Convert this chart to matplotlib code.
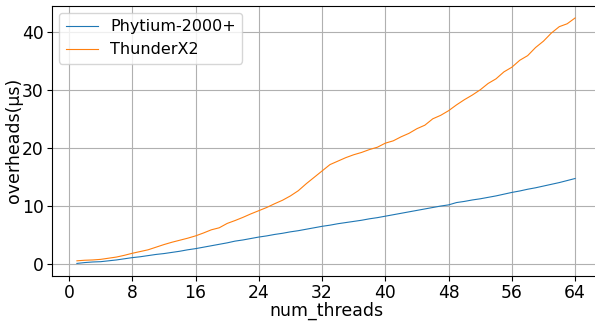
import numpy as np
import matplotlib.pyplot as plt

# thread counts 1..64
num_threads = list(range(1, 65))

phytium = [0.05, 0.2, 0.3, 0.35, 0.5, 0.65, 0.85, 1.05, 1.2, 1.4,
           1.6, 1.75, 1.95, 2.15, 2.4, 2.6, 2.85, 3.1, 3.35, 3.6,
           3.9, 4.1, 4.35, 4.6, 4.8, 5.05, 5.25, 5.5, 5.7, 5.95,
           6.2, 6.45, 6.65, 6.9, 7.1, 7.3, 7.5, 7.75, 7.95, 8.2,
           8.45, 8.7, 8.95, 9.2, 9.45, 9.7, 9.95, 10.15, 10.55, 10.75,
           11.0, 11.2, 11.45, 11.7, 12.0, 12.3, 12.55, 12.85, 13.1, 13.4,
           13.7, 14.0, 14.35, 14.7]

thunderx2 = [0.5, 0.6, 0.65, 0.75, 0.95, 1.15, 1.45, 1.8, 2.1, 2.4,
             2.85, 3.3, 3.7, 4.05, 4.4, 4.8, 5.3, 5.85, 6.2, 6.95,
             7.45, 8.0, 8.6, 9.15, 9.7, 10.35, 10.95, 11.7, 12.6, 13.8,
             14.9, 16.0, 17.1, 17.7, 18.3, 18.8, 19.2, 19.7, 20.1, 20.8,
             21.2, 21.9, 22.5, 23.3, 23.9, 25.0, 25.6, 26.4, 27.4, 28.3,
             29.1, 30.0, 31.1, 31.9, 33.1, 33.9, 35.1, 35.9, 37.3, 38.4,
             39.8, 40.9, 41.4, 42.4]

fig = plt.figure(figsize=(5.95, 3.22), dpi=100)
# right spine falls just outside the picture, as in the original crop
ax = fig.add_axes([52/595, 46.3/322, 548/595, 270/322])

ax.plot(num_threads, phytium, lw=0.8, label='Phytium-2000+')
ax.plot(num_threads, thunderx2, lw=0.8, label='ThunderX2')

ax.set_xticks([0, 8, 16, 24, 32, 40, 48, 56, 64])
ax.set_yticks([0, 10, 20, 30, 40])
ax.tick_params(labelsize=12.3, pad=2.5)
ax.grid(True, lw=0.8)
ax.set_xlabel('num_threads', fontsize=12.5, labelpad=0)
ax.set_ylabel('overheads(μs)', fontsize=12.5, labelpad=-1)
ax.legend(loc='upper left', fontsize=11.5, borderaxespad=0.45)

fig.savefig('out.png', dpi=100)
